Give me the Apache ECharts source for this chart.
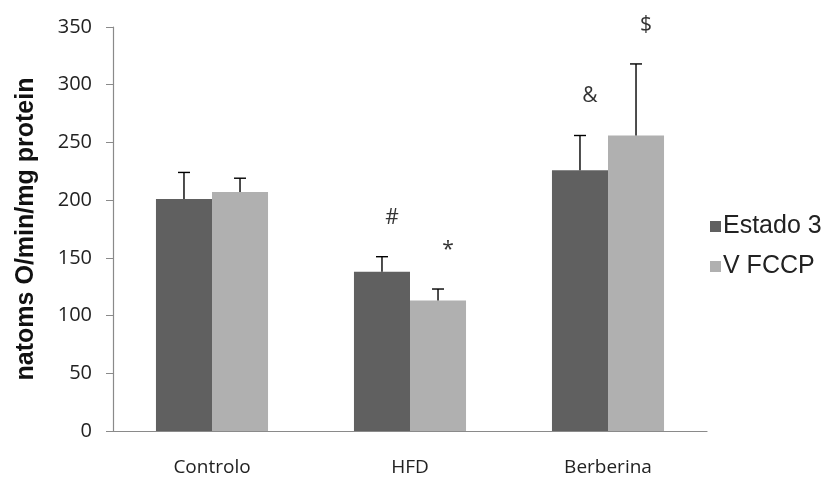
<!DOCTYPE html>
<html>
<head>
<meta charset="utf-8">
<script src="https://cdn.jsdelivr.net/npm/echarts@6/dist/echarts.min.js"></script>
<style>
  html, body { margin: 0; padding: 0; background: #fff; }
  #chart { width: 829px; height: 478px; }
</style>
</head>
<body>
<div id="chart"></div>
<script>
// Groups and series
const categories = ['Controlo', 'HFD', 'Berberina'];
const seriesNames = ['Estado 3', 'V FCCP'];
const estado3 = [201, 138, 226];
const vfccp = [207, 113, 256];
// Upper end of each error bar
const estado3Upper = [224, 151, 256];
const vfccpUpper = [219, 123, 318];
// Significance marks above each bar
const estado3Marks = ['', '#', '&'];
const vfccpMarks = ['', '*', '$'];
const yTicks = [0, 50, 100, 150, 200, 250, 300, 350];

const darkGrey = '#606060';
const lightGrey = '#b0b0b0';
const catGap = 0.434;

function errorSeries(name, means, uppers, marks, side) {
  return {
    type: 'custom',
    name: name + ' err',
    z: 5,
    data: categories.map((c, i) => [i, means[i], uppers[i], marks[i]]),
    renderItem: function (params, api) {
      const idx = api.value(0);
      const band = api.size([1, 0])[0];
      const barW = band * (1 - catGap) / 2;
      const base = api.coord([idx, api.value(1)]);
      const top = api.coord([idx, api.value(2)]);
      const x = base[0] + side * barW / 2;
      const cap = 6;
      const children = [
        { type: 'line', shape: { x1: x, y1: base[1], x2: x, y2: top[1] },
          style: { stroke: '#000', lineWidth: 1.4 } },
        { type: 'line', shape: { x1: x - cap, y1: top[1], x2: x + cap, y2: top[1] },
          style: { stroke: '#000', lineWidth: 1.4 } }
      ];
      const mark = marks[idx];
      if (mark) {
        children.push({
          type: 'text',
          style: {
            x: x + 10, y: top[1] - 39, text: mark,
            fill: '#333', font: '21px "Open Sans", sans-serif',
            align: 'center', verticalAlign: 'middle'
          }
        });
      }
      return { type: 'group', children: children };
    }
  };
}

const chart = echarts.init(document.getElementById('chart'));
chart.setOption({
  animation: false,
  backgroundColor: '#fff',
  grid: { left: 113, right: 122, top: 27, bottom: 47, containLabel: false, outerBoundsMode: 'none' },
  legend: {
    orient: 'vertical',
    left: 705, top: 209,
    itemWidth: 11, itemHeight: 11, itemGap: 15,
    icon: 'rect',
    data: seriesNames,
    textStyle: { fontFamily: '"Liberation Sans", Arial, sans-serif', fontSize: 25, color: '#222', padding: [0, 0, 0, -3] }
  },
  xAxis: {
    type: 'category',
    data: categories,
    axisLine: { lineStyle: { color: '#8a8a8a', width: 1.2 } },
    axisTick: { show: false },
    axisLabel: { margin: 27, fontFamily: '"Open Sans", sans-serif', fontSize: 19, color: '#222' }
  },
  yAxis: {
    type: 'value',
    min: 0, max: 350, interval: 50,
    name: 'natoms O/min/mg protein',
    nameLocation: 'middle',
    nameGap: 74,
    nameRotate: 90,
    nameTextStyle: { fontFamily: '"Liberation Sans", Arial, sans-serif', fontWeight: 'bold', fontSize: 25, color: '#111' },
    axisLine: { show: true, lineStyle: { color: '#8a8a8a', width: 1.2 } },
    axisTick: { show: true, inside: false, length: 7, lineStyle: { color: '#8a8a8a' } },
    splitLine: { show: false },
    axisLabel: {
      margin: 21, fontFamily: '"Open Sans", sans-serif', fontSize: 20, color: '#222',
      formatter: v => yTicks.includes(v) ? String(v) : ''
    }
  },
  series: [
    { type: 'bar', name: seriesNames[0], data: estado3, barGap: '0%', barCategoryGap: (catGap * 100) + '%',
      itemStyle: { color: darkGrey } },
    { type: 'bar', name: seriesNames[1], data: vfccp, barGap: '0%', barCategoryGap: (catGap * 100) + '%',
      itemStyle: { color: lightGrey } },
    errorSeries(seriesNames[0], estado3, estado3Upper, estado3Marks, -1),
    errorSeries(seriesNames[1], vfccp, vfccpUpper, vfccpMarks, 1)
  ]
});
</script>
</body>
</html>
